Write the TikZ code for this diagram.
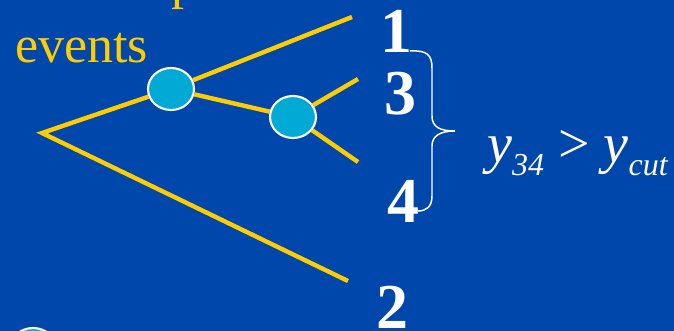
\documentclass[tikz,border=0pt]{standalone}
\usepackage{fontspec}
\setmainfont{Liberation Serif}
\usetikzlibrary{shapes.geometric, positioning}

\definecolor{slideblue}{RGB}{0,71,171}
\definecolor{jetyellow}{RGB}{255,204,0}
\definecolor{blobcyan}{RGB}{0,170,212}

\begin{document}
\begin{tikzpicture}[
    x=0.02cm, y=-0.02cm,
    parton/.style={draw=jetyellow, line width=2.5pt},
    blob/.style={ellipse, draw=white, line width=1.2pt, fill=blobcyan, minimum width=0.92cm, minimum height=0.84cm, inner sep=0pt},
    digit/.style={text=white, font=\fontsize{36.4}{40}\selectfont\bfseries, inner sep=0pt, anchor=base},
    caption/.style={text=jetyellow, font=\fontsize{29.6}{34}\selectfont, inner sep=0pt, anchor=base west},
    brace/.style={draw=white, line width=0.85pt}
]

    % BACKGROUND
    \fill [slideblue] (0,0) rectangle (674,331);
    \clip (0,0) rectangle (674,331);

    % SLIDE TEXT
    \node (upper) [caption] at (171,-1) {p};
    \node (events) [caption] at (15,63) {events};

    % SPLITTING BLOBS
    \coordinate (root) at (42,133);
    \node (b1) [blob] at (171,89) {};
    \node (b2) [blob] at (293,117) {};
    \node (b0) [blob] at (33,349) {};

    % PARTON ENDS
    \coordinate (e1) at (352,17);
    \coordinate (e2) at (348,281);
    \coordinate (e3) at (358,79);
    \coordinate (e4) at (358,162);

    % PARTON LINES
    \draw [parton] (b1) -- (root) -- (e2);
    \draw [parton] (b1) -- (e1);
    \draw [parton] (b1) -- (b2);
    \draw [parton] (b2) -- (e3);
    \draw [parton] (b2) -- (e4);

    % PARTON LABELS
    \node (n1) [digit] at (396,53) {1};
    \node (n3) [digit] at (400,115) {3};
    \node (n4) [digit] at (403,223) {4};
    \node (n2) [digit] at (392,329) {2};

    % BRACE OVER 3 AND 4
    \coordinate (btop) at (410,51);
    \coordinate (btip) at (455,131);
    \coordinate (bbot) at (418,211);
    \draw [brace] (btop) .. controls (427,50) and (432,55) .. (432,68) -- (432,116)
        .. controls (432,127) and (440,131) .. (btip)
        .. controls (440,131) and (432,136) .. (432,146) -- (432,196)
        .. controls (432,207) and (426,211) .. (bbot);

    % CUT CONDITION
    \node (ycut) [anchor=base west, text=white, inner sep=0pt, font=\fontsize{31.9}{36}\selectfont] at (487,163)
        {\itshape y\lower7.4pt\hbox{\fontsize{18.2}{20}\selectfont\itshape 34} \upshape> \itshape y\lower7.4pt\hbox{\fontsize{18.2}{20}\selectfont\itshape cut}};

\end{tikzpicture}
\end{document}
